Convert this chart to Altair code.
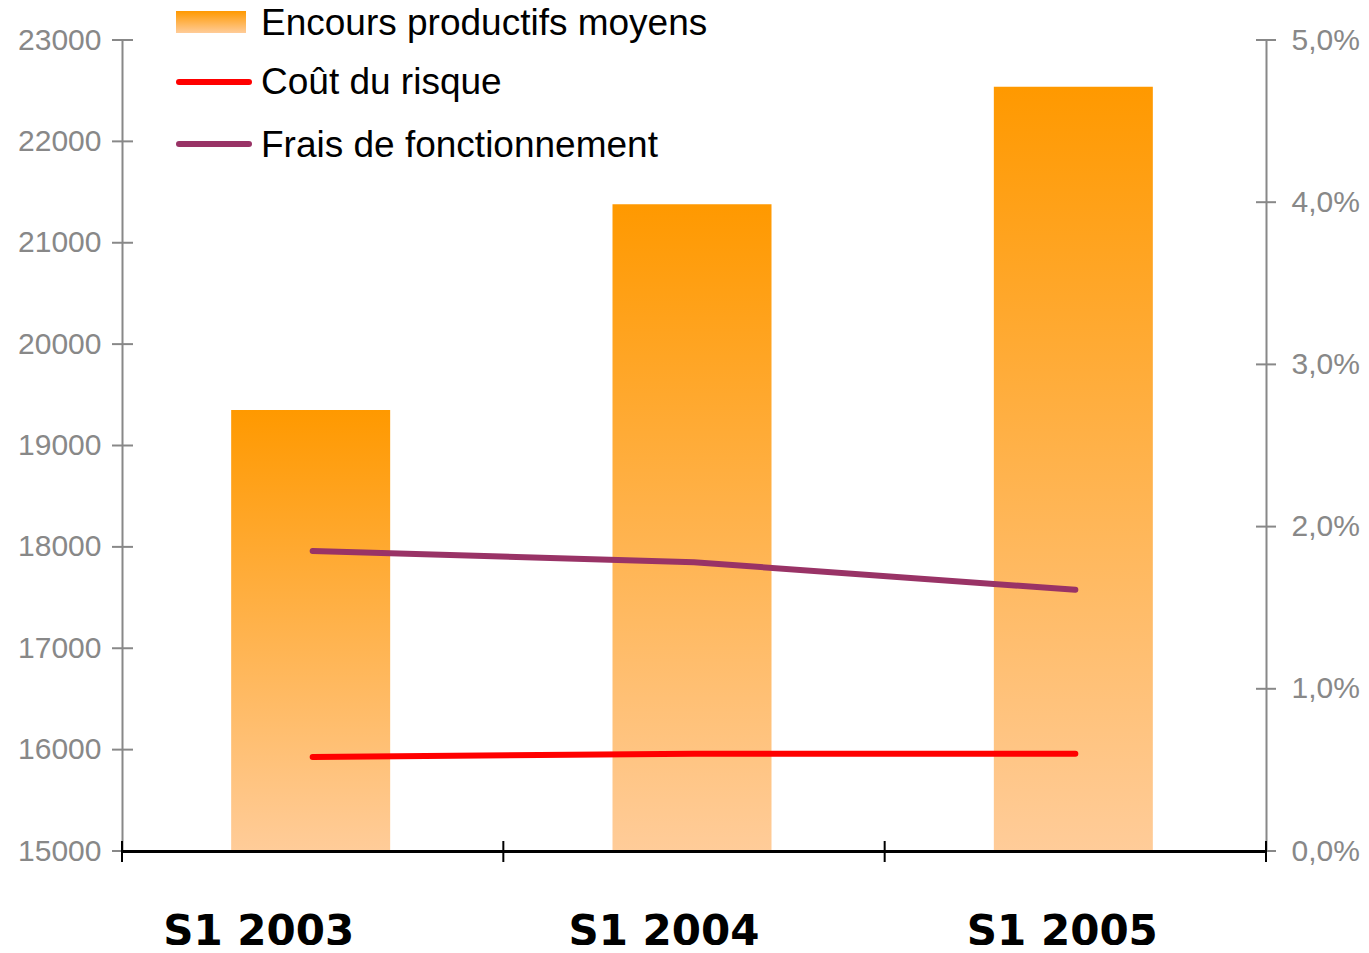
import altair as alt
import pandas as pd

# ---- data ----
categories = ["S1 2003", "S1 2004", "S1 2005"]
encours = [19350, 21380, 22540]          # left axis
cout_risque = [0.58, 0.60, 0.60]        # right axis, %
frais = [1.85, 1.78, 1.61]              # right axis, %
left_ticks = [15000, 16000, 17000, 18000, 19000, 20000, 21000, 22000, 23000]
right_ticks = [0, 1, 2, 3, 4, 5]
series_names = ["Encours productifs moyens", "Coût du risque", "Frais de fonctionnement"]

W, H = 1144, 811
GRAY = "#888888"

df = pd.DataFrame({"cat": categories, "encours": encours, "cout": cout_risque, "frais": frais})
df_lt = pd.DataFrame({"v": left_ticks})
df_rt = pd.DataFrame({"v": right_ticks})
df_xt = pd.DataFrame({"cat": categories})
one = pd.DataFrame({"a": [0]})

gradient = alt.Gradient(
    gradient="linear",
    stops=[alt.GradientStop(color="#FF9900", offset=0), alt.GradientStop(color="#FFCC99", offset=1)],
    x1=0, x2=0, y1=0, y2=1,
)

xscale = alt.Scale(domain=categories, paddingInner=0, paddingOuter=0)
axis_x = alt.Axis(
    title=None, domainColor="black", domainWidth=3, ticks=False, tickSize=0, grid=False,
    labelFont="DejaVu Sans", labelFontWeight="bold", labelFontSize=42, labelColor="black",
    labelPadding=93, labelBaseline="alphabetic", labelAngle=0, zindex=1, labelLimit=0,
    labelOffset={"condition": [{"test": "datum.value == 'S1 2003'", "value": -54},
                               {"test": "datum.value == 'S1 2004'", "value": -30}],
                 "value": -13},
)


def X(**kw):
    return alt.X("cat:N", scale=xscale, axis=axis_x, sort=categories, **kw)


lscale = alt.Scale(domain=[15000, 23000], nice=False, zero=False)
rscale = alt.Scale(domain=[0, 5], nice=False, zero=False)

axis_left = alt.Axis(
    title=None, values=left_ticks, ticks=False, tickSize=0, grid=False, format="d",
    domainColor=GRAY, domainWidth=2, labelColor=GRAY, labelFont="Liberation Sans",
    labelFontSize=30, labelPadding=21,
)
axis_right = alt.Axis(
    title=None, orient="right", values=right_ticks, ticks=False, tickSize=0, grid=False,
    domainColor=GRAY, domainWidth=2, labelColor=GRAY, labelFont="Liberation Sans",
    labelFontSize=30, labelPadding=25,
    labelExpr="replace(format(datum.value, '.1f'), '.', ',') + '%'",
)

bars = alt.Chart(df).mark_bar(size=159, color=gradient, xOffset=-2).encode(
    x=X(), y=alt.Y("encours:Q", scale=lscale, axis=axis_left), y2=alt.datum(15000)
)

line_cout = alt.Chart(df).mark_line(color="#FF0000", strokeWidth=6, strokeCap="round").encode(
    x=X(), y=alt.Y("cout:Q", scale=rscale, axis=axis_right)
)
line_frais = alt.Chart(df).mark_line(color="#993366", strokeWidth=6, strokeCap="round").encode(
    x=X(), y=alt.Y("frais:Q", scale=rscale, axis=None)
)

ticks_left = alt.Chart(df_lt).mark_rule(color=GRAY, strokeWidth=2).encode(
    y=alt.Y("v:Q", scale=lscale, axis=None), x=alt.value(-10), x2=alt.value(11)
)
ticks_right = alt.Chart(df_rt).mark_rule(color=GRAY, strokeWidth=2).encode(
    y=alt.Y("v:Q", scale=rscale, axis=None), x=alt.value(W - 10), x2=alt.value(W + 10)
)
ticks_x = alt.Chart(df_xt).mark_rule(color="black", strokeWidth=2).encode(
    x=X(bandPosition=0), y=alt.value(H - 10), y2=alt.value(H + 11)
)
tick_x_end = alt.Chart(one).mark_rule(color="black", strokeWidth=2).encode(
    x=alt.value(W), y=alt.value(H - 10), y2=alt.value(H + 11)
)

# ---- legend (manual) ----
leg_rect = alt.Chart(one).mark_rect(color=gradient).encode(
    x=alt.value(54), x2=alt.value(124), y=alt.value(-29), y2=alt.value(-7)
)
leg_red = alt.Chart(one).mark_rule(color="#FF0000", strokeWidth=6, strokeCap="round").encode(
    x=alt.value(57), x2=alt.value(127), y=alt.value(42)
)
leg_purple = alt.Chart(one).mark_rule(color="#993366", strokeWidth=6, strokeCap="round").encode(
    x=alt.value(57), x2=alt.value(127), y=alt.value(104)
)
leg_texts = [
    alt.Chart(one).mark_text(align="left", baseline="alphabetic", font="Liberation Sans",
                             fontSize=37, color="black").encode(
        x=alt.value(139), y=alt.value(yy), text=alt.value(name))
    for name, yy in zip(series_names, [-5, 54, 117])
]

chart = alt.layer(
    bars, line_frais, line_cout, ticks_left, ticks_right, ticks_x, tick_x_end,
    leg_rect, leg_red, leg_purple, *leg_texts,
).resolve_scale(y="independent").properties(
    width=W, height=H,
    padding={"left": 114, "top": 32, "right": 94, "bottom": 94},
    autosize=alt.AutoSizeParams(type="none"),
).configure_view(stroke=None)

chart.save("out.html", embed_options={"renderer": "svg", "actions": False})
